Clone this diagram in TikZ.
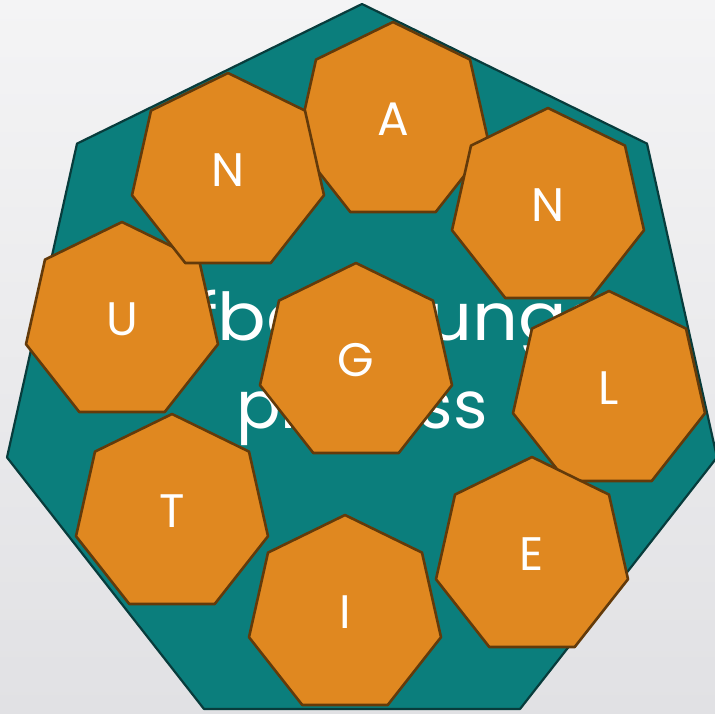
\documentclass[tikz,border=0pt]{standalone}
\usepackage{fontspec}
\setmainfont{Poppins}
\usetikzlibrary{calc}
\definecolor{bgtop}{HTML}{F4F4F5}
\definecolor{bgbot}{HTML}{E1E1E4}
\definecolor{tealfill}{HTML}{0B7E7C}
\definecolor{tealline}{HTML}{083C3C}
\definecolor{orfill}{HTML}{E08820}
\definecolor{orline}{HTML}{633A0A}
\tikzset{
  bigsept/.style={fill=tealfill,draw=tealline,line width=2.2pt,line join=round},
  smallsept/.style={fill=orfill,draw=orline,line width=2.6pt,line join=round},
  letter/.style={text=white,font=\fontsize{47}{47}\selectfont,inner sep=0pt},
  titletext/.style={text=white,font=\fontsize{66}{88}\selectfont,inner sep=0pt,anchor=base}
}
\newcommand\septa[4]{%
  \draw[smallsept] (#2,#3) -- ++(77,37.6) -- ++(19,84.6) -- ++(-53.3,67.8) -- ++(-85.4,0) -- ++(-53.3,-67.8) -- ++(19,-84.6) -- cycle;
  \node[letter] (#1) at (#2,#3+97) {#4};
}
\begin{document}
\begin{tikzpicture}[x=1pt,y=-1pt]
\useasboundingbox (0,0) rectangle (715,713);
\shade[top color=bgtop,bottom color=bgbot] (0,0) rectangle (715,713);
\draw[bigsept] (362,4) -- (647,143.6) -- (717,457.4) -- (520,709) -- (204,709) -- (7,457.4) -- (77,143.6) -- cycle;
\node[titletext] (t1) at (372,340) {\scalebox{1.09}[1]{Aufbereitungs-}};
\node[titletext] (t2) at (362,428) {prozess};
\septa{hA}{393}{22}{A}
\septa{hU}{122}{222}{U}
\septa{hN1}{228}{73}{N}
\septa{hN2}{548}{108}{N}
\septa{hG}{356}{263}{G}
\septa{hL}{609}{291}{L}
\septa{hT}{172}{414}{T}
\septa{hE}{532}{457}{E}
\septa{hI}{345}{515}{I}
\end{tikzpicture}
\end{document}
